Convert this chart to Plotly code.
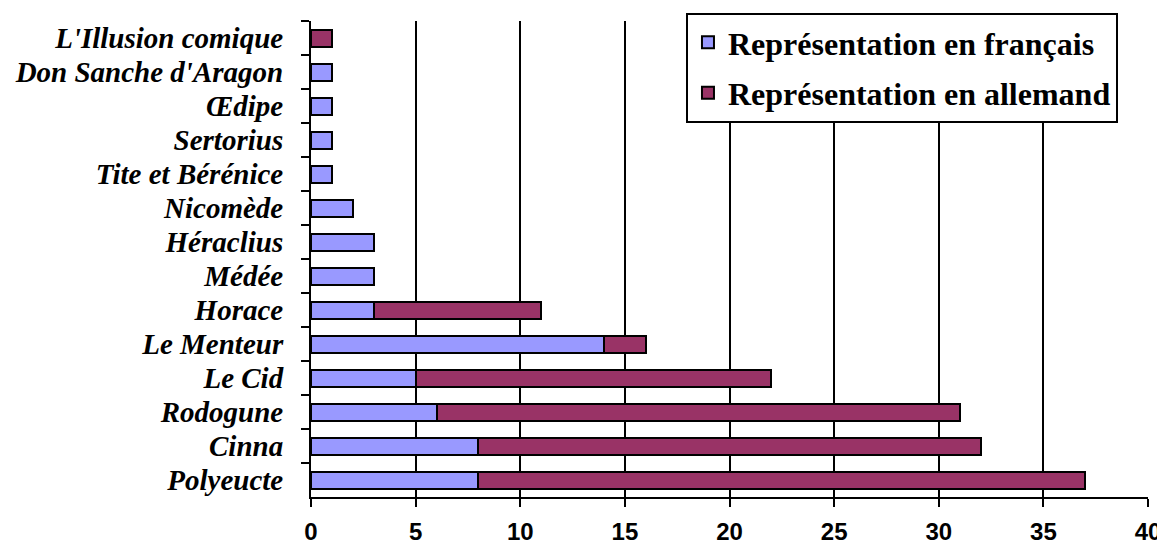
import plotly.graph_objects as go

categories = ["L'Illusion comique", "Don Sanche d'Aragon", "Œdipe", "Sertorius",
              "Tite et Bérénice", "Nicomède", "Héraclius", "Médée", "Horace",
              "Le Menteur", "Le Cid", "Rodogune", "Cinna", "Polyeucte"]
francais = [0, 1, 1, 1, 1, 2, 3, 3, 3, 14, 5, 6, 8, 8]
allemand = [1, 0, 0, 0, 0, 0, 0, 0, 8, 2, 17, 25, 24, 29]
x_ticks = [0, 5, 10, 15, 20, 25, 30, 35, 40]

fig = go.Figure()
fig.add_trace(go.Bar(
    y=categories, x=francais, orientation="h", name="Représentation en français",
    marker=dict(color="#9999FF", line=dict(color="black", width=2)),
    legendgroup="fr",
))
fig.add_trace(go.Bar(
    y=categories, x=allemand, orientation="h", name="Représentation en allemand",
    marker=dict(color="#993366", line=dict(color="black", width=2)),
    legendgroup="de",
))

fig.update_layout(
    width=1157, height=538,
    barmode="stack", bargap=0.5,
    paper_bgcolor="white", plot_bgcolor="white",
    margin=dict(l=303, r=17, t=13, b=49, autoexpand=False),
    showlegend=True,
    legend=dict(
        x=0.448, xanchor="left", y=1.017, yanchor="top",
        bordercolor="black", borderwidth=2, bgcolor="white",
        font=dict(family="Liberation Serif", size=32, color="black", weight="bold"),
        traceorder="grouped", tracegroupgap=6,
    ),
    xaxis=dict(
        range=[0, 40], tickvals=x_ticks, ticktext=[str(v) for v in x_ticks],
        showgrid=True, gridcolor="black", gridwidth=2,
        showline=True, linecolor="black", linewidth=2,
        ticks="outside", ticklen=8, tickwidth=2, tickcolor="black",
        zeroline=False, automargin=False, ticklabelstandoff=4,
        tickfont=dict(family="Liberation Sans", size=24, color="black", weight="bold"),
    ),
    yaxis=dict(
        autorange="reversed", type="category",
        tickmode="linear", tick0=0, dtick=1,
        showgrid=False, showline=True, linecolor="black", linewidth=2,
        ticks="outside", ticklen=8, tickwidth=2, tickcolor="black",
        tickson="boundaries", ticklabelstandoff=20, automargin=False,
        tickfont=dict(family="Liberation Serif", size=29, color="black",
                      weight="bold", style="italic"),
    ),
)

fig.write_html("out.html")
